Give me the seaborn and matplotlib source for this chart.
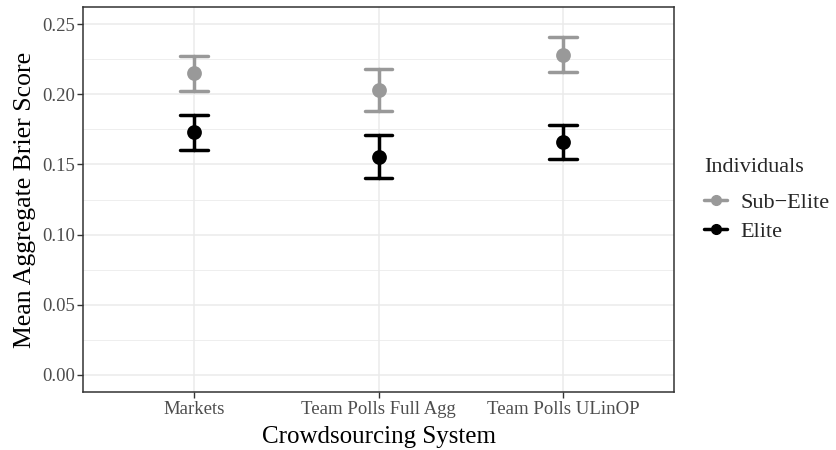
import pandas as pd
import matplotlib.pyplot as plt
import seaborn as sns
from matplotlib.lines import Line2D
from matplotlib.ticker import MultipleLocator, FormatStrFormatter

# Values
systems = ["Markets", "Team Polls Full Agg", "Team Polls ULinOP"]
groups = ["Sub\u2212Elite", "Elite"]
colors = ["#999999", "#000000"]

sub_mean = [0.2153, 0.2030, 0.2281]
sub_low = [0.2025, 0.1878, 0.2160]
sub_high = [0.2277, 0.2184, 0.2407]

elite_mean = [0.1729, 0.1555, 0.1662]
elite_low = [0.1603, 0.1403, 0.1538]
elite_high = [0.1854, 0.1709, 0.1783]

# Long table: low / mean / high per cell, so median + full-range interval
# reproduce the point and its error bar
rows = []
for grp, lo, mid, hi in [(groups[0], sub_low, sub_mean, sub_high),
                         (groups[1], elite_low, elite_mean, elite_high)]:
    for i, sys_name in enumerate(systems):
        for v in (lo[i], mid[i], hi[i]):
            rows.append({"system": sys_name, "group": grp, "score": v})
df = pd.DataFrame(rows)

sns.set_theme(style="white")
plt.rcParams["font.family"] = ["Liberation Serif", "DejaVu Serif"]

fig = plt.figure(figsize=(8.37, 4.5), dpi=100)
ax = fig.add_axes([0.0992, 0.1282, 0.7061, 0.8569])

sns.pointplot(data=df, x="system", y="score", hue="group", order=systems,
              hue_order=groups, palette=colors, estimator="median",
              errorbar=("pi", 100), markers="o", linestyle="none",
              capsize=0.15, err_kws={"linewidth": 2.5}, markersize=8.6,
              dodge=False, legend=False, ax=ax)

ax.set_xlim(-0.6, 2.6)
ax.set_ylim(-0.0125, 0.2625)
ax.yaxis.set_major_locator(MultipleLocator(0.05))
ax.yaxis.set_minor_locator(MultipleLocator(0.025))
ax.yaxis.set_major_formatter(FormatStrFormatter("%.2f"))

ax.set_axisbelow(True)
ax.grid(which="major", color="#EBEBEB", linewidth=1.1)
ax.grid(which="minor", axis="y", color="#EBEBEB", linewidth=0.6)
for s in ax.spines.values():
    s.set_color("#333333")
    s.set_linewidth(1.1)

ax.tick_params(which="major", length=4, width=1, color="#333333",
               labelcolor="#4D4D4D", labelsize=13.5, pad=2)
ax.tick_params(which="minor", length=0)
ax.tick_params(axis="x", bottom=True)
ax.tick_params(axis="y", left=True)

ax.set_xlabel("Crowdsourcing System", fontsize=18, color="black", labelpad=6)
ax.set_ylabel("Mean Aggregate Brier Score", fontsize=18.5, color="black", labelpad=4)

handles = [Line2D([0], [0], color=c, marker="o", markersize=7, linewidth=2.5)
           for c in colors]
leg = fig.legend(handles, groups, title="Individuals", loc="center left",
                 bbox_to_anchor=(0.828, 0.555), frameon=False, fontsize=16,
                 title_fontsize=16, handlelength=1.05, handletextpad=0.6,
                 labelspacing=0.38, borderpad=0, alignment="left")
leg._legend_box.sep = 11

fig.savefig("out.png", dpi=100)
